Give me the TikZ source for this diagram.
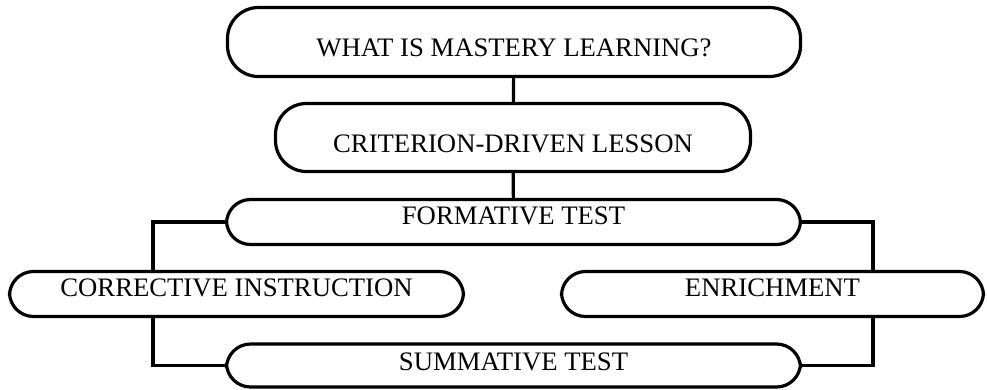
\documentclass[tikz,border=0pt]{standalone}
\usepackage{fontspec}
\setmainfont{Liberation Serif}
\begin{document}
\begin{tikzpicture}[x=1pt,y=-1pt,line width=3.2pt,
  stage/.style={draw,rounded corners=24pt,inner sep=0pt,text height=17.5pt,text depth=0pt,
    font=\fontsize{26.7}{30}\selectfont},
  bigstage/.style={stage,rounded corners=31pt,text height=29.5pt},
  texthigh/.style={text depth=12pt}]
\useasboundingbox (0,0) rectangle (987,389);
\node [bigstage,minimum width=573pt,minimum height=69pt] (v0) at (514,42) {WHAT IS MASTERY LEARNING?};
\node [bigstage,minimum width=475pt,minimum height=68pt] (v1) at (513,137.5) {CRITERION-DRIVEN LESSON};
\node [stage,texthigh,minimum width=574pt,minimum height=45pt] (v2) at (513.5,222) {FORMATIVE TEST};
\node [stage,texthigh,minimum width=454pt,minimum height=45pt] (v3) at (236.5,294) {CORRECTIVE INSTRUCTION};
\node [stage,texthigh,minimum width=422pt,minimum height=45pt] (v4) at (772.5,294) {ENRICHMENT};
\node [stage,text depth=8pt,minimum width=574pt,minimum height=43pt] (v5) at (513.5,365.5) {SUMMATIVE TEST};
\draw (v0) -- (v1);
\draw (v1) -- (v2);
\draw (v2.west) -| ([xshift=-83.5pt]v3.north);
\draw ([xshift=-83.5pt]v3.south) |- (v5.west);
\draw (v2.east) -| ([xshift=100.5pt]v4.north);
\draw ([xshift=100.5pt]v4.south) |- (v5.east);
\end{tikzpicture}
\end{document}
